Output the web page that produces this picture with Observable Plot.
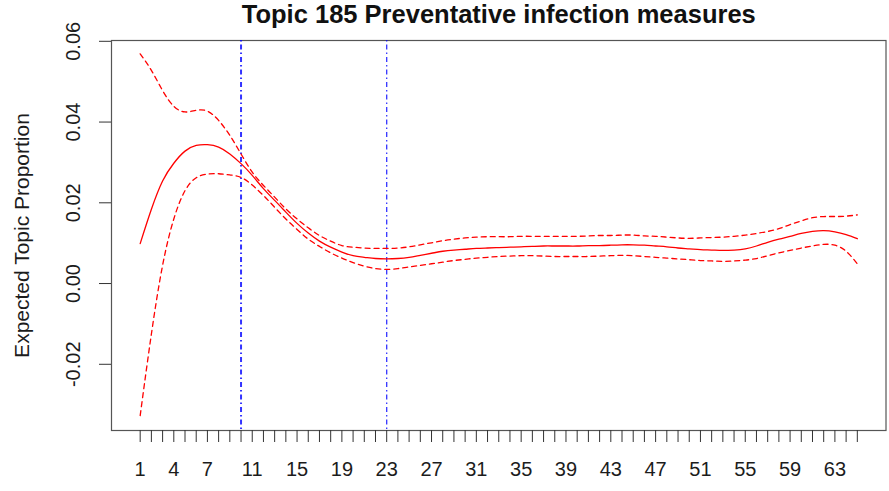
<!DOCTYPE html>
<html>
<head>
<meta charset="utf-8">
<script src="https://cdn.jsdelivr.net/npm/d3@7"></script>
<script src="https://cdn.jsdelivr.net/npm/@observablehq/plot@0.6"></script>
<style>
  html, body { margin: 0; padding: 0; background: #fff; }
  #chart svg { display: block; font-family: "Liberation Sans", Arial, sans-serif; }
</style>
</head>
<body>
<div id="chart"></div>
<script>
const title = "Topic 185 Preventative infection measures";
const yLabel = "Expected Topic Proportion";
const t = d3.range(1, 66);
const meanVals = [0.0099,0.0184,0.0254,0.0298,0.0328,0.0342,0.0344,0.0338,0.0321,0.0297,
  0.0268,0.0235,0.0206,0.0177,0.0149,0.0125,0.0105,0.0090,0.0078,0.0069,
  0.0065,0.0062,0.0061,0.0062,0.0065,0.0070,0.0075,0.0080,0.0083,0.0085,
  0.0087,0.0088,0.0089,0.0090,0.0091,0.0092,0.0093,0.0093,0.0093,0.0093,
  0.0094,0.0094,0.0095,0.0096,0.0096,0.0095,0.0093,0.0091,0.0088,0.0086,
  0.0084,0.0083,0.0082,0.0083,0.0086,0.0093,0.0102,0.0110,0.0117,0.0124,
  0.0129,0.0131,0.0128,0.0121,0.0111];
const upperVals = [0.0569,0.0528,0.0478,0.0439,0.0425,0.0429,0.0427,0.0404,0.0367,0.0321,
  0.0276,0.0243,0.0214,0.0185,0.0160,0.0138,0.0119,0.0105,0.0094,0.0090,
  0.0088,0.0087,0.0087,0.0088,0.0091,0.0096,0.0101,0.0106,0.0110,0.0113,
  0.0115,0.0116,0.0116,0.0116,0.0117,0.0117,0.0117,0.0117,0.0117,0.0117,
  0.0118,0.0119,0.0119,0.0120,0.0120,0.0118,0.0117,0.0115,0.0113,0.0112,
  0.0113,0.0114,0.0115,0.0117,0.0120,0.0124,0.0129,0.0136,0.0146,0.0155,
  0.0163,0.0166,0.0166,0.0167,0.0170];
const lowerVals = [-0.0327,-0.0125,0.0045,0.0160,0.0230,0.0262,0.0271,0.0272,0.0269,0.0263,
  0.0244,0.0218,0.0189,0.0160,0.0134,0.0110,0.0092,0.0076,0.0063,0.0052,
  0.0043,0.0037,0.0035,0.0037,0.0041,0.0045,0.0049,0.0053,0.0057,0.0060,
  0.0063,0.0065,0.0067,0.0068,0.0069,0.0069,0.0068,0.0067,0.0067,0.0067,
  0.0067,0.0068,0.0069,0.0070,0.0069,0.0067,0.0065,0.0063,0.0061,0.0059,
  0.0057,0.0056,0.0055,0.0056,0.0058,0.0062,0.0069,0.0076,0.0082,0.0088,
  0.0093,0.0097,0.0095,0.0080,0.0049];
const vLines = [10, 23];
const vWidths = [2, 1.3];
const yTicks = [-0.02, 0.00, 0.02, 0.04, 0.06];
const yTickLabels = ["-0.02", "0.00", "0.02", "0.04", "0.06"];
const xTicks = d3.range(1, 66);
const xLabels = [1,4,7,11,15,19,23,27,31,35,39,43,47,51,55,59,63];

const rows = t.map((x, i) => ({x, mean: meanVals[i], upper: upperVals[i], lower: lowerVals[i]}));
const vRows = vLines.map((x, i) => ({x, w: vWidths[i]}));
const yRows = yTicks.map((y, i) => ({y, label: yTickLabels[i]}));

const textColor = "#1c1c1c";
const plot = Plot.plot({
  width: 889,
  height: 491,
  marginLeft: 111,
  marginRight: 3.5,
  marginTop: 40,
  marginBottom: 61,
  style: {fontFamily: "'Liberation Sans', Arial, sans-serif", color: textColor, background: "#fff"},
  x: {domain: [-1.56, 67.56], axis: null, label: null},
  y: {domain: [-0.0364, 0.0602], axis: null, label: null},
  marks: [
    Plot.frame({stroke: "#555", strokeWidth: 1.2}),
    Plot.axisX({ticks: xTicks, tickSize: 12, tickPadding: 19, fontSize: 20, stroke: "#333", label: null,
      tickFormat: d => xLabels.includes(d) ? String(d) : "", fill: textColor}),
    Plot.axisY({ticks: yTicks, tickSize: 12, tickFormat: () => "", stroke: "#333", label: null}),
    Plot.text(yRows, {y: "y", text: "label", frameAnchor: "left", dx: -38,
      rotate: -90, textAnchor: "middle", fontSize: 20, fill: textColor}),
    Plot.text([yLabel], {text: d => d, frameAnchor: "left", dx: -89, rotate: -90,
      textAnchor: "middle", fontSize: 21, fill: textColor}),
    Plot.text([title], {text: d => d, frameAnchor: "top", dy: -26, lineAnchor: "middle",
      fontSize: 25.5, fontWeight: "bold", fill: "#111"}),
    Plot.ruleX(vRows, {x: "x", stroke: "#0000ff", strokeWidth: "w", strokeDasharray: "1.5,3,5,3", strokeOpacity: 0.8}),
    Plot.line(rows, {x: "x", y: "upper", stroke: "#ff0000", strokeWidth: 1.3, strokeDasharray: "5,4", curve: "natural"}),
    Plot.line(rows, {x: "x", y: "lower", stroke: "#ff0000", strokeWidth: 1.3, strokeDasharray: "5,4", curve: "natural"}),
    Plot.line(rows, {x: "x", y: "mean", stroke: "#ff0000", strokeWidth: 1.3, curve: "natural"})
  ]
});
document.getElementById("chart").append(plot);
</script>
</body>
</html>
